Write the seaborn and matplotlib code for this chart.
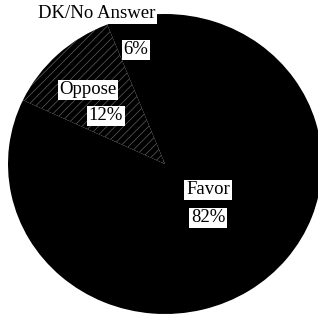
import matplotlib
matplotlib.use("Agg")
import matplotlib.pyplot as plt
import seaborn as sns

categories = ["DK/No Answer", "Oppose", "Favor"]
values = [6, 12, 82]
pct_labels = ["6%", "12%", "82%"]

sns.set_theme(style="white")
plt.rcParams["font.family"] = ["Liberation Serif", "DejaVu Serif"]
plt.rcParams["hatch.linewidth"] = 0.5

W, H = 318, 316
fig = plt.figure(figsize=(W / 100, H / 100), dpi=100)
fig.patch.set_facecolor("white")

# pie ellipse in pixels: x 8..322, y 14..314
ax = fig.add_axes([8 / W, (H - 314) / H, 314 / W, 300 / H])
wedges, _ = ax.pie(values, startangle=90, counterclock=True,
                   colors=["black", "black", "black"],
                   wedgeprops=dict(linewidth=0))
wedges[1].set_hatch("////")
wedges[1].set_edgecolor("#5e5e5e")
wedges[1].set_linewidth(0)
ax.set_aspect("auto")
ax.set_xlim(-1, 1)
ax.set_ylim(-1, 1)
ax.axis("off")

box = dict(facecolor="white", edgecolor="none", pad=1.2)
fs = 13.5


def put(txt, px, py, va="center"):
    fig.text(px / W, 1 - py / H, txt, ha="center", va=va, fontsize=fs,
             color="black", bbox=box)


put(categories[0], 97, 14)
put(pct_labels[0], 136, 50)
put(categories[1], 88, 90)
put(pct_labels[1], 106, 116)
put(categories[2], 208, 190)
put(pct_labels[2], 208, 218)

fig.savefig("out.png", dpi=100, facecolor="white")
